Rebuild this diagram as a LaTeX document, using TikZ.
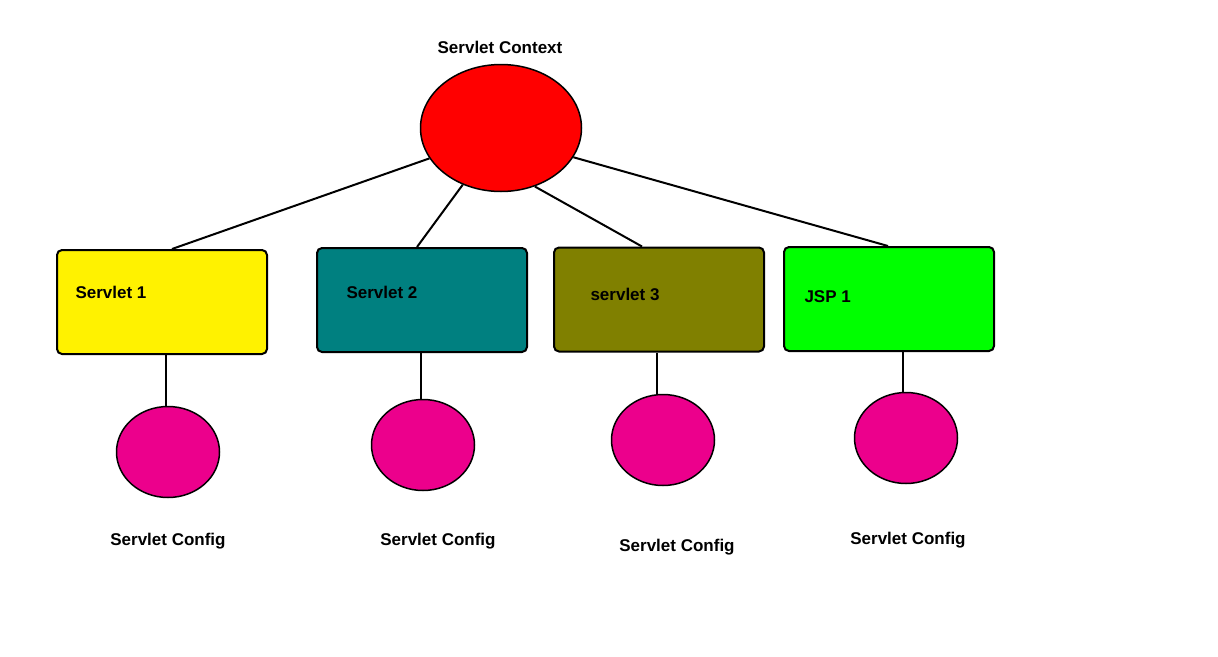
\documentclass[tikz,border=0pt]{standalone}
\usepackage{fontspec}
\setmainfont{Liberation Sans}
\usetikzlibrary{shapes.geometric}
\definecolor{cteal}{HTML}{008080}
\definecolor{colive}{HTML}{808000}
\begin{document}
\begin{tikzpicture}[x=1pt,y=-1pt,
  lbl/.style={font=\fontsize{17}{20}\selectfont\bfseries},
  box/.style={draw,line width=2pt,rounded corners=5pt,minimum width=210pt,minimum height=104pt},
  cfg/.style={draw,line width=1.5pt,ellipse,fill=magenta,minimum width=103pt,minimum height=91pt},
  con/.style={line width=2pt}]
\useasboundingbox[fill=white] (0,0) rectangle (1218,656);
\node[draw,line width=1.5pt,ellipse,fill=red,minimum width=161pt,minimum height=127pt] (ctx) at (501,128) {};
\node[lbl] (ctxl) at (500,47) {Servlet Context};
\node[box,fill=yellow] (b1) at (162,302) {};
\node[box,fill=cteal] (b2) at (422,300) {};
\node[box,fill=colive] (b3) at (659,299.5) {};
\node[box,fill=green] (b4) at (889,299) {};
\node[lbl,anchor=west] (t1) at (72,292) {Servlet 1};
\node[lbl,anchor=west] (t2) at (343,292) {Servlet 2};
\node[lbl,anchor=west] (t3) at (587,294) {servlet 3};
\node[lbl,anchor=west] (t4) at (801,297) {JSP 1};
\node[cfg] (c1) at (168,452) {};
\node[cfg] (c2) at (423,445) {};
\node[cfg] (c3) at (663,440) {};
\node[cfg] (c4) at (906,438) {};
\node[lbl] (l1) at (168,541) {Servlet Config};
\node[lbl] (l2) at (438,541) {Servlet Config};
\node[lbl] (l3) at (677,547) {Servlet Config};
\node[lbl] (l4) at (908,540) {Servlet Config};
\draw[con] (ctx.203) -- (b1.north -| 172,0);
\draw[con] (ctx.236) -- (b2.north -| 417,0);
\draw[con] (ctx.300) -- (b3.north -| 642,0);
\draw[con] (ctx.338) -- (b4.north -| 888,0);
\draw[con] (b1.south -| 166,0) -- (c1.north -| 166,0);
\draw[con] (b2.south -| 421,0) -- (c2.north -| 421,0);
\draw[con] (b3.south -| 657,0) -- (c3.north -| 657,0);
\draw[con] (b4.south -| 903,0) -- (c4.north -| 903,0);
\end{tikzpicture}
\end{document}
